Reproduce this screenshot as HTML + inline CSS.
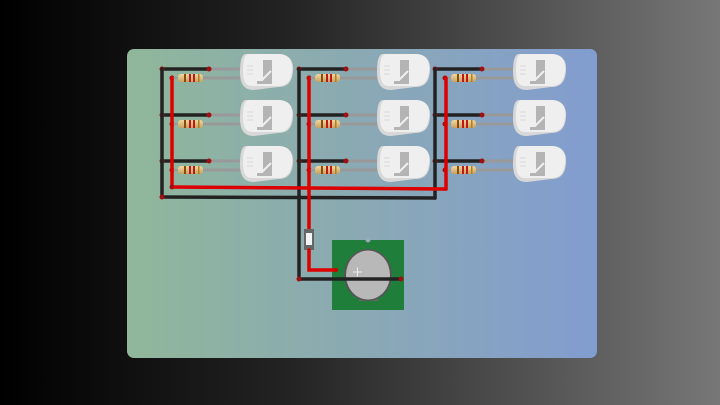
<!DOCTYPE html>
<html><head><style>
html,body{margin:0;padding:0;width:720px;height:405px;overflow:hidden;background:linear-gradient(90deg,#000 0%,#232323 40%,#777 100%);}
svg{position:absolute;left:0;top:0}
</style></head><body>
<svg width="720" height="405" viewBox="0 0 720 405" xmlns="http://www.w3.org/2000/svg">
<defs>
<linearGradient id="card" x1="0" x2="1" y1="0" y2="0">
<stop offset="0" stop-color="#90b79a"/><stop offset="0.5" stop-color="#8aa9b4"/><stop offset="1" stop-color="#829dd0"/>
</linearGradient>
<linearGradient id="res" x1="0" x2="0" y1="0" y2="1">
<stop offset="0" stop-color="#f0d8a0"/><stop offset="1" stop-color="#c8a060"/>
</linearGradient>
<g id="led">
<path d="M6 0 H38 C50 0 54 8 53 17 C52 28 48 33 38 33 L14 36 C4 36 0 30 0 18 C0 6 2 0 6 0Z" fill="#d8d8d8"/>
<path d="M9 0 H38 C50 0 53 8 52 17 C51 27 47 32 38 32 H12 C5 32 3 26 3 16 C3 5 5 0 9 0Z" fill="#efefef"/>
<rect x="20" y="6" width="12" height="24" fill="#b4b4b4"/>
<rect x="18" y="6" width="5" height="24" fill="#efefef"/>
<path d="M20 28 L31 17" stroke="#efefef" stroke-width="2"/>
<rect x="17" y="27" width="15" height="3" fill="#b4b4b4"/>
<path d="M7 12h6M7 16h6M7 20h6" stroke="#e0e0e0" stroke-width="1.5"/>
</g>
<g id="row">
<line x1="162" y1="0" x2="209" y2="0" stroke="#222" stroke-width="3.5"/>
<line x1="209" y1="0" x2="242" y2="0" stroke="#999" stroke-width="3"/>
<line x1="203" y1="9" x2="242" y2="9" stroke="#999" stroke-width="3"/>
<circle cx="162" cy="0" r="2.5" fill="#a01010"/>
<circle cx="209" cy="0" r="2.5" fill="#a01010"/>
<circle cx="172" cy="9" r="2.5" fill="#a01010"/>
<line x1="172" y1="9" x2="178" y2="9" stroke="#999" stroke-width="2"/>
<rect x="178" y="5" width="25" height="8" rx="3" fill="url(#res)"/>
<rect x="184" y="5" width="2" height="8" fill="#8a4a10"/>
<rect x="189" y="5" width="2" height="8" fill="#c01818"/>
<rect x="193" y="5" width="2" height="8" fill="#c01818"/>
<rect x="198" y="5" width="1.5" height="8" fill="#b08020"/>
<use href="#led" x="240" y="-15"/>
</g>
<g id="col">
<use href="#row" y="69"/>
<use href="#row" y="115"/>
<use href="#row" y="161"/>
</g>
</defs>
<rect x="127" y="49" width="470" height="309" rx="7" fill="url(#card)"/>
<use href="#col" x="0"/>
<use href="#col" x="137"/>
<use href="#col" x="273"/>
<g stroke-linecap="round">
<line x1="162" y1="69" x2="162" y2="197" stroke="#222" stroke-width="3.5"/>
<line x1="299" y1="69" x2="299" y2="279" stroke="#222" stroke-width="3.5"/>
<line x1="435" y1="69" x2="435" y2="198" stroke="#222" stroke-width="3.5"/>
<line x1="162" y1="197" x2="435" y2="198" stroke="#222" stroke-width="3.5"/>
<line x1="172" y1="78" x2="172" y2="187" stroke="#d00" stroke-width="3.5"/>
<line x1="309" y1="78" x2="309" y2="230" stroke="#d00" stroke-width="3.5"/>
<line x1="446" y1="78" x2="446" y2="189" stroke="#d00" stroke-width="3.5"/>
<line x1="172" y1="187" x2="446" y2="189" stroke="#d00" stroke-width="3.5"/>
</g>
<circle cx="162" cy="197" r="2.5" fill="#a01010"/>
<circle cx="172" cy="187" r="2.5" fill="#a01010"/>
<rect x="332" y="240" width="72" height="70" fill="#1f7f3a"/>
<circle cx="368" cy="240" r="2.5" fill="#9ab"/>
<rect x="359" y="292" width="19" height="9" fill="#666"/>
<ellipse cx="368" cy="275" rx="24" ry="26" fill="#555"/>
<ellipse cx="368" cy="275" rx="22" ry="24.5" fill="#b8b8b8"/>
<path d="M353 272h9M357.5 267.5v9" stroke="#eee" stroke-width="1"/>
<rect x="304" y="229" width="10" height="21" fill="#666"/>
<rect x="306" y="233" width="6" height="12" fill="#f4f4f4"/>
<path d="M309 250 V270 H336" fill="none" stroke="#d00" stroke-width="3.5" stroke-linecap="round"/>
<line x1="299" y1="279" x2="401" y2="279" stroke="#222" stroke-width="3.5"/>
<circle cx="299" cy="279" r="2.5" fill="#a01010"/>
<circle cx="401" cy="279" r="2.5" fill="#a01010"/>
<circle cx="336" cy="270" r="2" fill="#c00"/>
</svg>
</body></html>
